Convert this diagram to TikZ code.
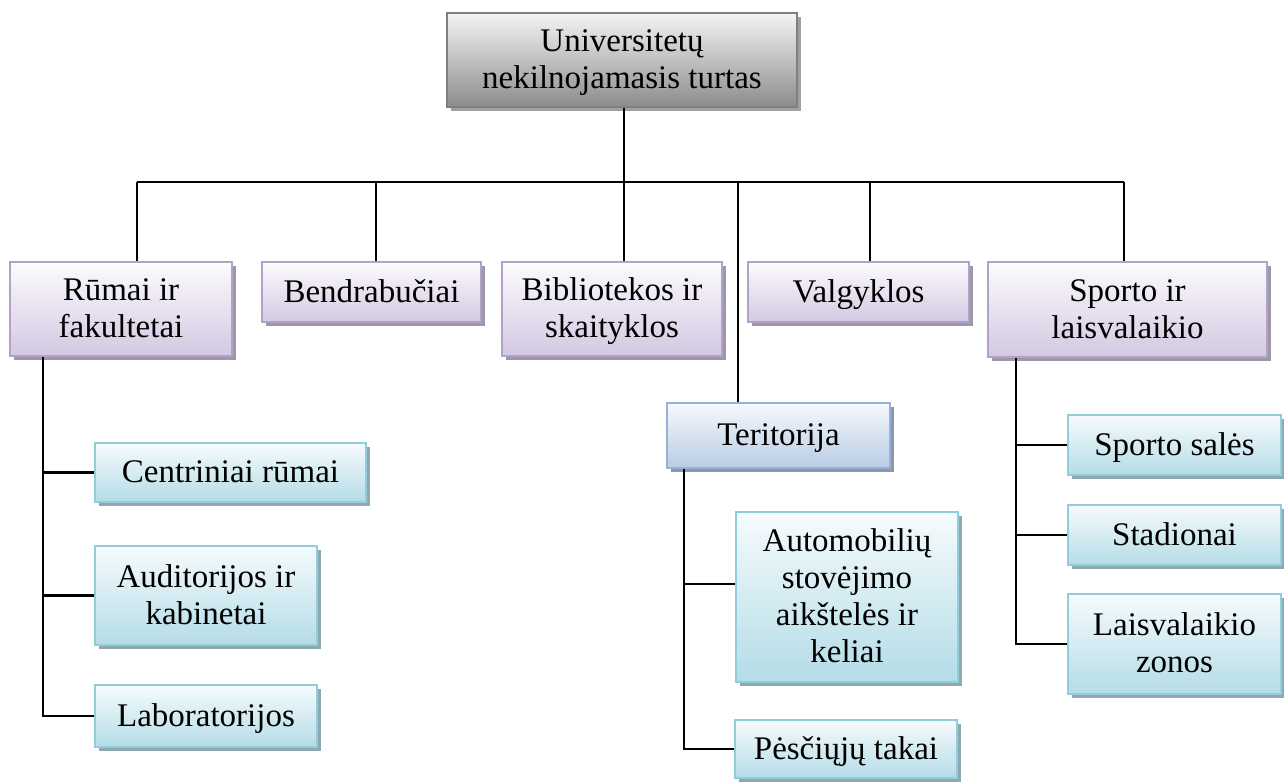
\documentclass[tikz,border=0pt]{standalone}
\usepackage{fontspec}
\setmainfont{Liberation Serif}
\usetikzlibrary{shadows}

\definecolor{rootLine}{HTML}{7F7F7F}
\definecolor{rootTop}{HTML}{F4F4F4}
\definecolor{rootBot}{HTML}{8C8C8C}
\definecolor{rootShadow}{HTML}{A0A0A0}
\definecolor{purLine}{HTML}{B3A2C7}
\definecolor{purTop}{HTML}{FCFBFE}
\definecolor{purBot}{HTML}{D3C8E2}
\definecolor{purShadow}{HTML}{9D98A6}
\definecolor{cyaLine}{HTML}{92CDDC}
\definecolor{cyaTop}{HTML}{F6FBFD}
\definecolor{cyaBot}{HTML}{B4DCE7}
\definecolor{cyaShadow}{HTML}{8DA8B0}
\definecolor{bluLine}{HTML}{95B3D7}
\definecolor{bluTop}{HTML}{F7F9FD}
\definecolor{bluBot}{HTML}{B8CCE4}
\definecolor{bluShadow}{HTML}{8A98AA}

% centred block of lines whose baseline is that of its first line
\newcommand{\boxlines}[1]{\begin{tabular}[t]{@{}c@{}}#1\end{tabular}}

\begin{document}
\begin{tikzpicture}[x=1pt,y=-1pt,
  base/.style={draw, line width=1.8pt, inner sep=0pt,
    font=\fontsize{33}{37}\selectfont, text=black,
    text height=28pt, text depth=8pt},
  two/.style={text depth=45pt},
  four/.style={text depth=119pt},
  rootbox/.style={base, draw=rootLine, top color=rootTop, bottom color=rootBot,
    drop shadow={shadow xshift=4pt, shadow yshift=-4pt, fill=rootShadow, opacity=1}},
  purbox/.style={base, draw=purLine, top color=purTop, bottom color=purBot,
    drop shadow={shadow xshift=4pt, shadow yshift=-4pt, fill=purShadow, opacity=1}},
  cyabox/.style={base, draw=cyaLine, top color=cyaTop, bottom color=cyaBot,
    drop shadow={shadow xshift=4pt, shadow yshift=-4pt, fill=cyaShadow, opacity=1}},
  blubox/.style={base, draw=bluLine, top color=bluTop, bottom color=bluBot,
    drop shadow={shadow xshift=4pt, shadow yshift=-4pt, fill=bluShadow, opacity=1}},
  link/.style={line width=2.1pt, black}
]
\useasboundingbox (0,0) rectangle (1284,782);

% root
\node[rootbox, two, minimum width=350pt, minimum height=94pt] (root) at (622,60)
  {\boxlines{Universitetų\\nekilnojamasis turtas}};

% first level
\node[purbox, two, minimum width=222pt, minimum height=94pt] (rumai) at (121,309)
  {\boxlines{Rūmai ir\\fakultetai}};
\node[purbox, minimum width=219pt, minimum height=60pt] (bendr) at (371.5,292)
  {Bendrabučiai};
\node[purbox, two, minimum width=220pt, minimum height=94pt] (bibl) at (612,309)
  {\boxlines{Bibliotekos ir\\skaityklos}};
\node[purbox, minimum width=221pt, minimum height=60pt] (valg) at (858.5,292)
  {Valgyklos};
\node[purbox, two, minimum width=279pt, minimum height=95pt] (sporto) at (1127.5,309.5)
  {\boxlines{Sporto ir\\laisvalaikio}};
\node[blubox, minimum width=223pt, minimum height=65pt] (terit) at (778.5,435.5)
  {Teritorija};

% second level
\node[cyabox, minimum width=271pt, minimum height=59pt] (centr) at (230.5,472.5)
  {Centriniai rūmai};
\node[cyabox, two, minimum width=222pt, minimum height=99pt] (audit) at (206,595.5)
  {\boxlines{Auditorijos ir\\kabinetai}};
\node[cyabox, minimum width=222pt, minimum height=62pt] (labor) at (206,716)
  {Laboratorijos};
\node[cyabox, four, minimum width=222pt, minimum height=170pt] (auto) at (847,597)
  {\boxlines{Automobilių\\stovėjimo\\aikštelės ir\\keliai}};
\node[cyabox, minimum width=222pt, minimum height=58pt] (pesc) at (846,749)
  {Pėsčiųjų takai};
\node[cyabox, minimum width=213pt, minimum height=60pt] (sales) at (1174.5,445)
  {Sporto salės};
\node[cyabox, minimum width=213pt, minimum height=60pt] (stad) at (1174.5,535)
  {Stadionai};
\node[cyabox, two, minimum width=213pt, minimum height=100pt] (laisv) at (1174.5,644)
  {\boxlines{Laisvalaikio\\zonos}};

% bus under the root
\coordinate (bus) at (624,182);
\coordinate (busL) at (137,182);
\coordinate (busR) at (1124,182);
\coordinate (d2) at (376,182);
\coordinate (d4) at (738,182);
\coordinate (d5) at (870,182);
\draw[link] (root.south -| bus) -- (bus);
\draw[link] (busL) -- (busR);
\draw[link] (busL) -- (busL |- rumai.north);
\draw[link] (d2) -- (d2 |- bendr.north);
\draw[link] (bus) -- (bus |- bibl.north);
\draw[link] (d4) -- (d4 |- terit.north);
\draw[link] (d5) -- (d5 |- valg.north);
\draw[link] (busR) -- (busR |- sporto.north);

% spines to the second level
\coordinate (rs) at (43,0);
\draw[link] (rs |- rumai.south) |- (labor.west);
\draw[link] (rs |- centr.west) -- (centr.west);
\draw[link] (rs |- audit.west) -- (audit.west);

\coordinate (ts) at (684,0);
\coordinate (autoIn) at ([yshift=13pt]auto.west);
\draw[link] (ts |- terit.south) |- (pesc.west);
\draw[link] (ts |- autoIn) -- (autoIn);

\coordinate (ss) at (1016,0);
\draw[link] (ss |- sporto.south) |- (laisv.west);
\draw[link] (ss |- sales.west) -- (sales.west);
\draw[link] (ss |- stad.west) -- (stad.west);
\end{tikzpicture}
\end{document}
